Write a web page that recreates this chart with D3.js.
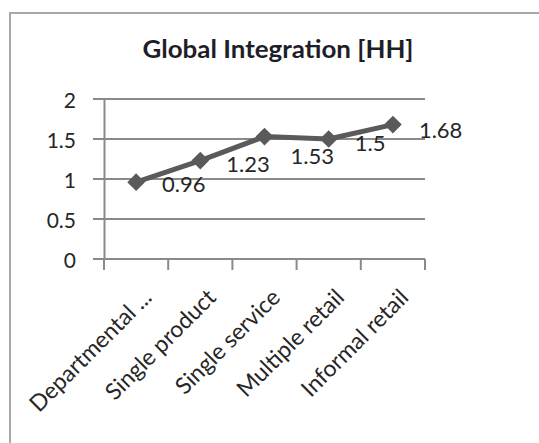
<!DOCTYPE html>
<html>
<head>
<meta charset="utf-8">
<script src="https://cdn.jsdelivr.net/npm/d3@7"></script>
<style>
  html, body { margin: 0; padding: 0; background: #fff; }
  svg { display: block; }
  text { font-family: Lato, "Open Sans", sans-serif; fill: #262626; }
</style>
</head>
<body>
<svg id="chart" width="539" height="443"></svg>
<script>
// Series data
const categories = ["Departmental ...", "Single product", "Single service", "Multiple retail", "Informal retail"];
const values = [0.96, 1.23, 1.53, 1.5, 1.68];
const yTicks = [0, 0.5, 1, 1.5, 2];
const chartTitle = "Global Integration [HH]";

// Vertical nudge of each value label below its point (px)
const labelDy = [10, 11, 27, 12, 13];

const svg = d3.select("#chart");
const plot = { left: 104, right: 425, top: 99, bottom: 259 };
const gridColor = "#8a8a8a";
const lineColor = "#5a5a5a";

// Chart frame
svg.append("rect")
  .attr("x", 10).attr("y", 13)
  .attr("width", 560).attr("height", 460)
  .attr("fill", "none")
  .attr("stroke", "#a8a8a8")
  .attr("stroke-width", 2);

// Title
svg.append("text")
  .attr("x", 278).attr("y", 58)
  .attr("text-anchor", "middle")
  .attr("font-size", 24)
  .attr("font-weight", 700)
  .attr("textLength", 271)
  .attr("lengthAdjust", "spacingAndGlyphs")
  .style("fill", "#1e1e28")
  .text(chartTitle);

const x = d3.scaleBand().domain(categories).range([plot.left, plot.right]);
const y = d3.scaleLinear().domain([0, 2]).range([plot.bottom, plot.top]);

// Horizontal gridlines
svg.append("g")
  .selectAll("line")
  .data(yTicks)
  .join("line")
  .attr("x1", plot.left - 11).attr("x2", plot.right)
  .attr("y1", d => y(d)).attr("y2", d => y(d))
  .attr("stroke", gridColor)
  .attr("stroke-width", 2);

// Y axis
const yAxis = svg.append("g")
  .attr("transform", `translate(${plot.left},0)`)
  .call(d3.axisLeft(y).tickValues(yTicks).tickFormat(d3.format("")).tickSize(0).tickPadding(28));
yAxis.select(".domain").attr("stroke", gridColor).attr("stroke-width", 2);
yAxis.selectAll("text")
  .attr("font-size", 21)
  .attr("font-family", "Lato, sans-serif")
  .attr("dy", "0.4em")
  .style("fill", "#262626");

// X axis with ticks at the category boundaries
const xAxisG = svg.append("g").attr("transform", `translate(0,${plot.bottom})`);
xAxisG.append("line")
  .attr("x1", plot.left).attr("x2", plot.right)
  .attr("stroke", gridColor).attr("stroke-width", 2);
const bounds = categories.map(c => x(c)).concat([x(categories[categories.length - 1]) + x.bandwidth()]);
xAxisG.selectAll("line.tick")
  .data(bounds)
  .join("line")
  .attr("class", "tick")
  .attr("x1", d => d).attr("x2", d => d)
  .attr("y1", 0).attr("y2", 11)
  .attr("stroke", gridColor).attr("stroke-width", 2);

// Rotated category labels
xAxisG.selectAll("text.cat")
  .data(categories)
  .join("text")
  .attr("class", "cat")
  .attr("text-anchor", "end")
  .attr("font-size", 23)
  .attr("transform", d => `translate(${x(d) + x.bandwidth() / 2 + 17},${40}) rotate(-45)`)
  .text(d => d);

// Line
const line = d3.line()
  .x((d, i) => x(categories[i]) + x.bandwidth() / 2)
  .y(d => y(d));
svg.append("path")
  .datum(values)
  .attr("d", line)
  .attr("fill", "none")
  .attr("stroke", lineColor)
  .attr("stroke-width", 5)
  .attr("stroke-linejoin", "round");

// Diamond markers
svg.append("g")
  .selectAll("path")
  .data(values)
  .join("path")
  .attr("d", d3.symbol().type(d3.symbolDiamond2).size(200))
  .attr("transform", (d, i) => `translate(${x(categories[i]) + x.bandwidth() / 2},${y(d)})`)
  .attr("fill", lineColor);

// Value labels
svg.append("g")
  .selectAll("text")
  .data(values)
  .join("text")
  .attr("x", (d, i) => x(categories[i]) + x.bandwidth() / 2 + 26)
  .attr("y", (d, i) => y(d) + labelDy[i])
  .attr("font-size", 22)
  .text(d => d);
</script>
</body>
</html>
